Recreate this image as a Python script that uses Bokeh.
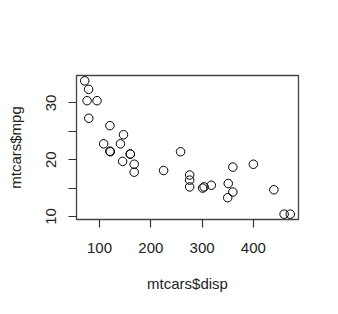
from bokeh.plotting import figure
from bokeh.models import Range1d, FixedTicker
from bokeh.embed import file_html
from bokeh.resources import INLINE

disp = [160, 160, 108, 258, 360, 225, 360, 146.7, 140.8, 167.6, 167.6, 275.8, 275.8, 275.8,
        472, 460, 440, 78.7, 75.7, 71.1, 120.1, 318, 304, 350, 400, 79, 120.3, 95.1, 351, 145, 301, 121]
mpg = [21.0, 21.0, 22.8, 21.4, 18.7, 18.1, 14.3, 24.4, 22.8, 19.2, 17.8, 16.4, 17.3, 15.2,
       10.4, 10.4, 14.7, 32.4, 30.4, 33.9, 21.5, 15.5, 15.2, 13.3, 19.2, 27.3, 26.0, 30.4, 15.8, 19.7, 15.0, 21.4]
x_ticks = [100, 200, 300, 400]
y_ticks = [10, 15, 20, 25, 30]
y_labels = {10: "10", 15: "", 20: "20", 25: "", 30: "30"}

xpad = (max(disp) - min(disp)) * 0.04
ypad = (max(mpg) - min(mpg)) * 0.04

p = figure(width=338, height=314, output_backend="svg", toolbar_location=None,
           x_range=Range1d(min(disp) - xpad, max(disp) + xpad),
           y_range=Range1d(min(mpg) - ypad, max(mpg) + ypad),
           min_border_left=76, min_border_right=40, min_border_top=75, min_border_bottom=95)
p.background_fill_color = "white"
p.border_fill_color = "white"
p.grid.visible = False
p.outline_line_color = "#444444"
p.outline_line_width = 1.3

p.scatter(disp, mpg, size=8.5, fill_color=None, line_color="black", line_width=1)

font = "Liberation Sans"
for ax in (p.xaxis[0], p.yaxis[0]):
    ax.axis_line_color = None
    ax.major_tick_line_color = "#333333"
    ax.major_tick_line_width = 1.2
    ax.major_tick_out = 8
    ax.major_tick_in = 0
    ax.minor_tick_line_color = None
    ax.major_label_text_font = font
    ax.major_label_text_font_size = "15px"
    ax.major_label_text_color = "#222222"
    ax.axis_label_text_font = font
    ax.axis_label_text_font_size = "15px"
    ax.axis_label_text_font_style = "normal"
    ax.axis_label_text_color = "#222222"

p.xaxis[0].ticker = FixedTicker(ticks=x_ticks)
p.yaxis[0].ticker = FixedTicker(ticks=y_ticks)
p.yaxis[0].major_label_overrides = y_labels
p.yaxis[0].major_label_orientation = "vertical"
p.xaxis[0].axis_label = "mtcars$disp"
p.yaxis[0].axis_label = "mtcars$mpg"
p.xaxis[0].major_label_standoff = 15
p.yaxis[0].major_label_standoff = 12
p.xaxis[0].axis_label_standoff = 19
p.yaxis[0].axis_label_standoff = 20

open("out.html", "w").write(file_html(p, INLINE))
